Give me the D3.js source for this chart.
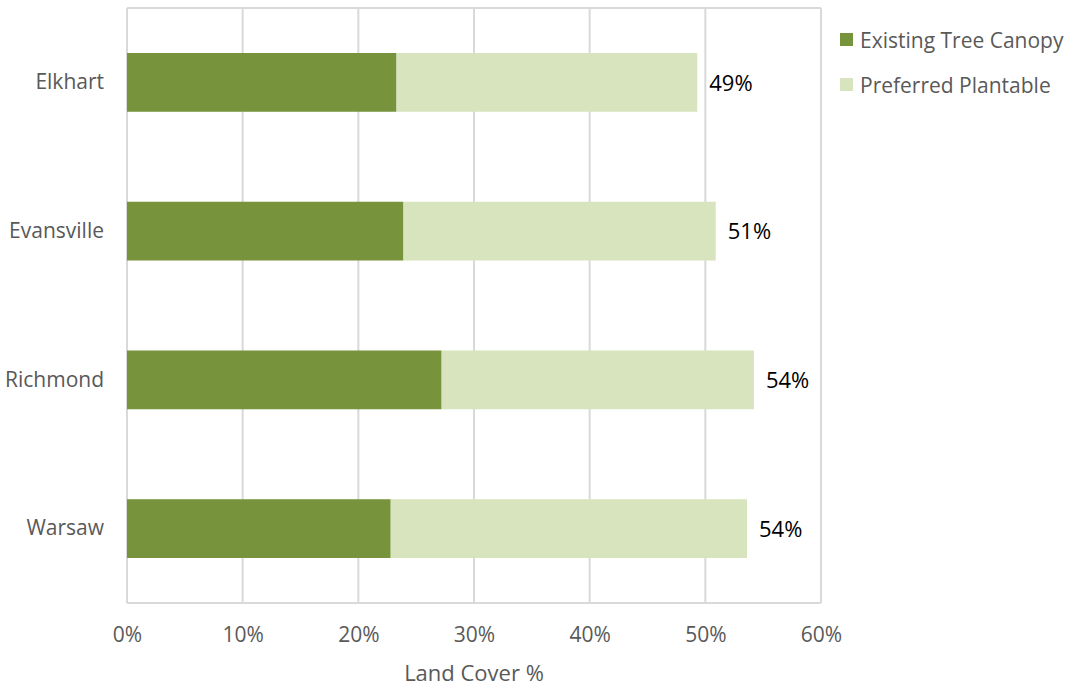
<!DOCTYPE html>
<html>
<head>
<meta charset="utf-8">
<title>Land Cover</title>
<script src="https://d3js.org/d3.v7.min.js"></script>
<style>
  body { margin: 0; background: #fff; }
  text { font-family: "Open Sans", sans-serif; }
</style>
</head>
<body>
<script>
// data
var cities = ["Elkhart", "Evansville", "Richmond", "Warsaw"];
var canopy = [23.3, 23.9, 27.2, 22.8];
var plantable = [26.0, 27.0, 27.0, 30.8];
var totalLabels = ["49%", "51%", "54%", "54%"];
var seriesNames = ["Existing Tree Canopy", "Preferred Plantable"];
var xTicks = [0, 10, 20, 30, 40, 50, 60];

var colors = ["#77933c", "#d7e4bd"];
var W = 1065, H = 686;
var margin = { top: 8, right: 244, bottom: 83, left: 127 };
var width = W - margin.left - margin.right,
    height = H - margin.top - margin.bottom;

var svg = d3.select("body").append("svg")
  .attr("width", W).attr("height", H);
var g = svg.append("g")
  .attr("transform", "translate(" + margin.left + "," + margin.top + ")");

var x = d3.scaleLinear().domain([0, 60]).range([0, width]);
var y = d3.scaleBand().domain(cities).range([0, height]).paddingInner(0.605).paddingOuter(0.3025);

// grid + plot border
g.selectAll(".grid").data(xTicks).enter().append("line")
  .attr("x1", function(d){ return x(d); }).attr("x2", function(d){ return x(d); })
  .attr("y1", 0).attr("y2", height)
  .attr("stroke", "#d9d9d9").attr("stroke-width", 2);
g.append("line").attr("x1", 0).attr("x2", width).attr("y1", 0).attr("y2", 0)
  .attr("stroke", "#d9d9d9").attr("stroke-width", 2);
g.append("line").attr("x1", 0).attr("x2", width).attr("y1", height).attr("y2", height)
  .attr("stroke", "#d9d9d9").attr("stroke-width", 2);

var rows = cities.map(function(c, i){
  return { city: c, a: canopy[i], b: plantable[i], label: totalLabels[i] };
});

// stacked bars
g.selectAll(".barA").data(rows).enter().append("rect")
  .attr("x", x(0)).attr("y", function(d){ return y(d.city); })
  .attr("width", function(d){ return x(d.a) - x(0); })
  .attr("height", y.bandwidth())
  .attr("fill", colors[0]);
g.selectAll(".barB").data(rows).enter().append("rect")
  .attr("x", function(d){ return x(d.a); }).attr("y", function(d){ return y(d.city); })
  .attr("width", function(d){ return x(d.a + d.b) - x(d.a); })
  .attr("height", y.bandwidth())
  .attr("fill", colors[1]);

// total labels
g.selectAll(".val").data(rows).enter().append("text")
  .attr("x", function(d){ return x(d.a + d.b) + 12; })
  .attr("y", function(d){ return y(d.city) + y.bandwidth()/2; })
  .attr("dy", "0.38em")
  .attr("font-size", "22px").attr("fill", "#000")
  .text(function(d){ return d.label; });

// axes
var yAxis = g.append("g").call(d3.axisLeft(y).tickSize(0).tickPadding(23));
yAxis.select(".domain").remove();
yAxis.selectAll("text").attr("font-size", "21px").attr("fill", "#595959")
  .style("font-family", "Open Sans");

var xAxis = g.append("g").attr("transform", "translate(0," + height + ")")
  .call(d3.axisBottom(x).tickValues(xTicks).tickSize(0).tickPadding(24)
    .tickFormat(function(d){ return d + "%"; }));
xAxis.select(".domain").remove();
xAxis.selectAll("text").attr("font-size", "21px").attr("fill", "#595959")
  .style("font-family", "Open Sans");

g.append("text")
  .attr("x", width/2).attr("y", height + 78)
  .attr("text-anchor", "middle")
  .attr("font-size", "22px").attr("fill", "#595959")
  .text("Land Cover %");

// legend
var leg = svg.append("g").attr("transform", "translate(840,33)");
seriesNames.forEach(function(s, i){
  leg.append("rect").attr("x", 0).attr("y", i*45).attr("width", 13).attr("height", 13)
    .attr("fill", colors[i]);
  leg.append("text").attr("x", 20).attr("y", i*45 + 7).attr("dy", "0.36em")
    .attr("font-size", "21px").attr("fill", "#595959").text(s);
});
</script>
</body>
</html>
